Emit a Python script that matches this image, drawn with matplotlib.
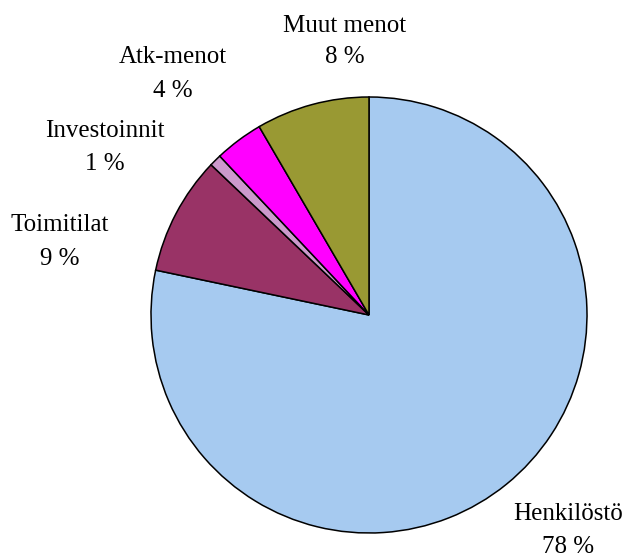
import matplotlib
matplotlib.use("Agg")
import matplotlib.pyplot as plt

categories = ["Henkilöstö", "Toimitilat", "Investoinnit", "Atk-menot", "Muut menot"]
values = [78.3, 8.8, 0.9, 3.6, 8.4]
pct_labels = ["78 %", "9 %", "1 %", "4 %", "8 %"]
colors = ["#A6CAF0", "#993366", "#CC99CC", "#FF00FF", "#999933"]

W, H = 628, 559
cx, cy, R = 369, 315, 218
fig = plt.figure(figsize=(W / 100, H / 100), dpi=100)
ax = fig.add_axes([(cx - R) / W, (H - cy - R) / H, 2 * R / W, 2 * R / H])
ax.pie(values, colors=colors, startangle=90, counterclock=False, radius=1.0,
       wedgeprops=dict(edgecolor="black", linewidth=1.1))
ax.set_xlim(-1, 1)
ax.set_ylim(-1, 1)
ax.set_aspect("equal")
ax.axis("off")

# label positions (pixel): x center, first-line baseline, second-line baseline
label_pos = [(568, 520, 553), (60, 231, 265), (105, 137, 170), (173, 63, 97), (345, 32, 63)]
font = dict(family="Liberation Serif", fontsize=18, ha="center", va="baseline", color="black")
for cat, pct, (px, b1, b2) in zip(categories, pct_labels, label_pos):
    fig.text(px / W, 1 - b1 / H, cat, **font)
    fig.text(px / W, 1 - b2 / H, pct, **font)

fig.savefig("out.png", dpi=100, facecolor="white")
